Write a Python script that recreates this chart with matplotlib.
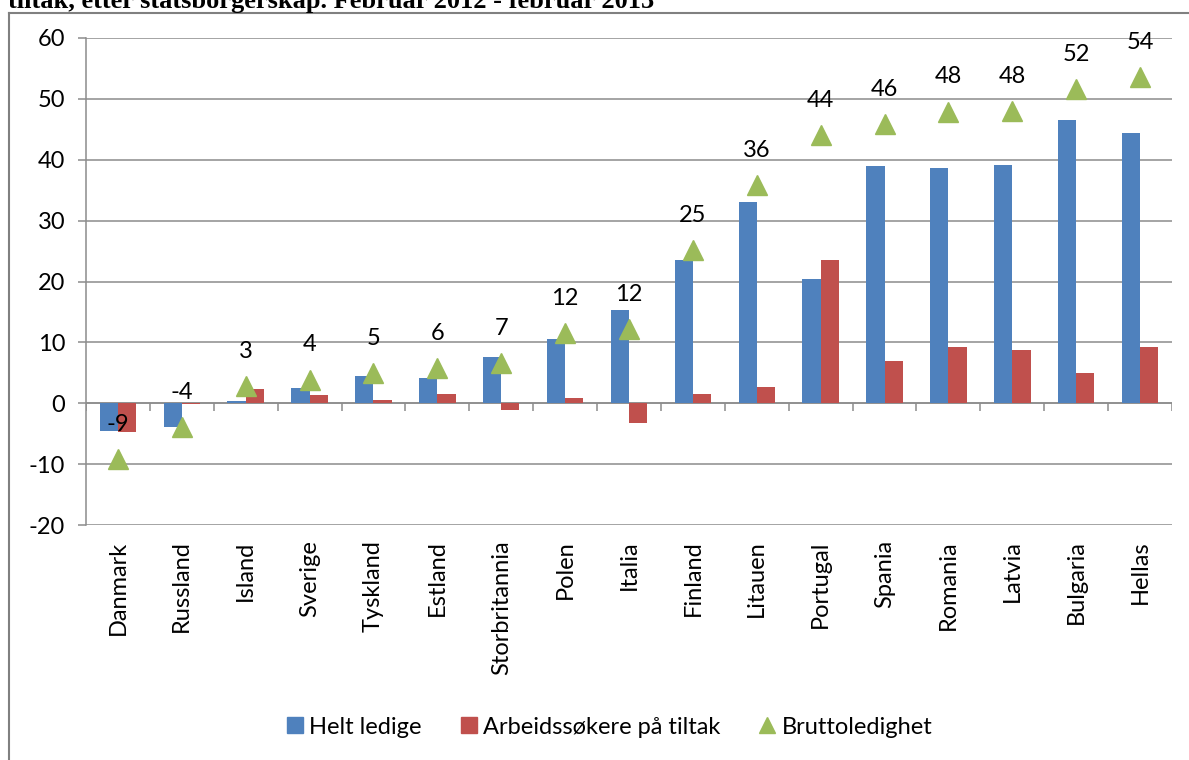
import numpy as np
import matplotlib
matplotlib.use("Agg")
import matplotlib.pyplot as plt
from matplotlib.lines import Line2D

plt.rcParams['font.family'] = ['Lato', 'DejaVu Sans']
plt.rcParams['axes.unicode_minus'] = False

countries = ["Danmark", "Russland", "Island", "Sverige", "Tyskland", "Estland",
             "Storbritannia", "Polen", "Italia", "Finland", "Litauen", "Portugal",
             "Spania", "Romania", "Latvia", "Bulgaria", "Hellas"]
helt_ledige = [-4.5, -3.9, 0.3, 2.5, 4.4, 4.2, 7.6, 10.6, 15.3, 23.5, 33.0,
               20.4, 38.9, 38.7, 39.1, 46.5, 44.4]
tiltak = [-4.8, -0.2, 2.3, 1.3, 0.5, 1.5, -1.1, 0.9, -3.2, 1.6, 2.6,
          23.6, 6.9, 9.2, 8.8, 5.0, 9.2]
brutto = [-9.2, -3.9, 2.8, 3.9, 4.9, 5.8, 6.6, 11.5, 12.2, 25.1, 35.8,
          44.0, 45.8, 47.9, 48.0, 51.6, 53.6]
brutto_labels = ["-9", "-4", "3", "4", "5", "6", "7", "12", "12", "25", "36",
                 "44", "46", "48", "48", "52", "54"]

BLUE = "#4F81BD"
RED = "#C0504D"
GREEN = "#9BBB59"
GRID = "#8C8C8C"
FS = 17

fig = plt.figure(figsize=(11.89, 7.6), dpi=100)
ax = fig.add_axes([86 / 1189, 1 - 525 / 760, (1172 - 86) / 1189, (525 - 38) / 760])

x = np.arange(len(countries))
w = 0.285
ax.bar(x - w / 2, helt_ledige, w, color=BLUE, label="Helt ledige", zorder=3)
ax.bar(x + w / 2, tiltak, w, color=RED, label="Arbeidssøkere på tiltak", zorder=3)
ax.plot(x, brutto, linestyle="none", marker="^", ms=15, color=GREEN,
        label="Bruttoledighet", zorder=4)

for xi, yi, lab in zip(x, brutto, brutto_labels):
    ax.annotate(lab, (xi, yi), xytext=(0, 25), textcoords="offset points",
                ha="center", va="center", fontsize=FS, zorder=5)

ax.set_xlim(-0.5, len(countries) - 0.5)
ax.set_ylim(-20, 60)
ax.set_yticks(range(-20, 61, 10))
ax.yaxis.grid(True, color=GRID, linewidth=1.1, zorder=0)
ax.tick_params(axis="y", length=6, color=GRID, width=1.1, pad=9, labelsize=FS)

# x axis crosses at 0, labels at the bottom
ax.axhline(0, color=GRID, linewidth=1.1, zorder=2)
ax.vlines(np.arange(len(countries) + 1) - 0.5, -1.3, 0, color=GRID,
          linewidth=1.1, zorder=2)
ax.set_xticks(x)
ax.set_xticklabels(countries, rotation=90, va="top", ha="center", fontsize=FS)
ax.tick_params(axis="x", length=0, pad=11)

for s in ["top", "right", "bottom"]:
    ax.spines[s].set_visible(False)
ax.spines["left"].set_color(GRID)
ax.spines["left"].set_linewidth(1.1)

handles = [
    Line2D([], [], linestyle="none", marker="s", ms=11, color=BLUE),
    Line2D([], [], linestyle="none", marker="s", ms=11, color=RED),
    Line2D([], [], linestyle="none", marker="^", ms=12, color=GREEN),
]
fig.legend(handles, ["Helt ledige", "Arbeidssøkere på tiltak", "Bruttoledighet"],
           loc="center", bbox_to_anchor=(0.513, 1 - 727 / 760), ncol=3,
           frameon=False, fontsize=FS, handlelength=0.6, handletextpad=0.3,
           columnspacing=1.7)

# cut-off heading above the frame
fig.text(8 / 1189, 1 - 8 / 760, "tiltak, etter statsborgerskap. Februar 2012 - februar 2013",
         family="Liberation Serif", fontweight="bold", fontsize=19,
         ha="left", va="baseline")

# outer frame (left and top edges)
fig.add_artist(Line2D([9 / 1189, 9 / 1189], [0, 1 - 13 / 760],
                      transform=fig.transFigure, color="#808080", linewidth=1.5))
fig.add_artist(Line2D([9 / 1189, 1], [1 - 13 / 760, 1 - 13 / 760],
                      transform=fig.transFigure, color="#808080", linewidth=1.5))

fig.savefig("out.png", dpi=100)
